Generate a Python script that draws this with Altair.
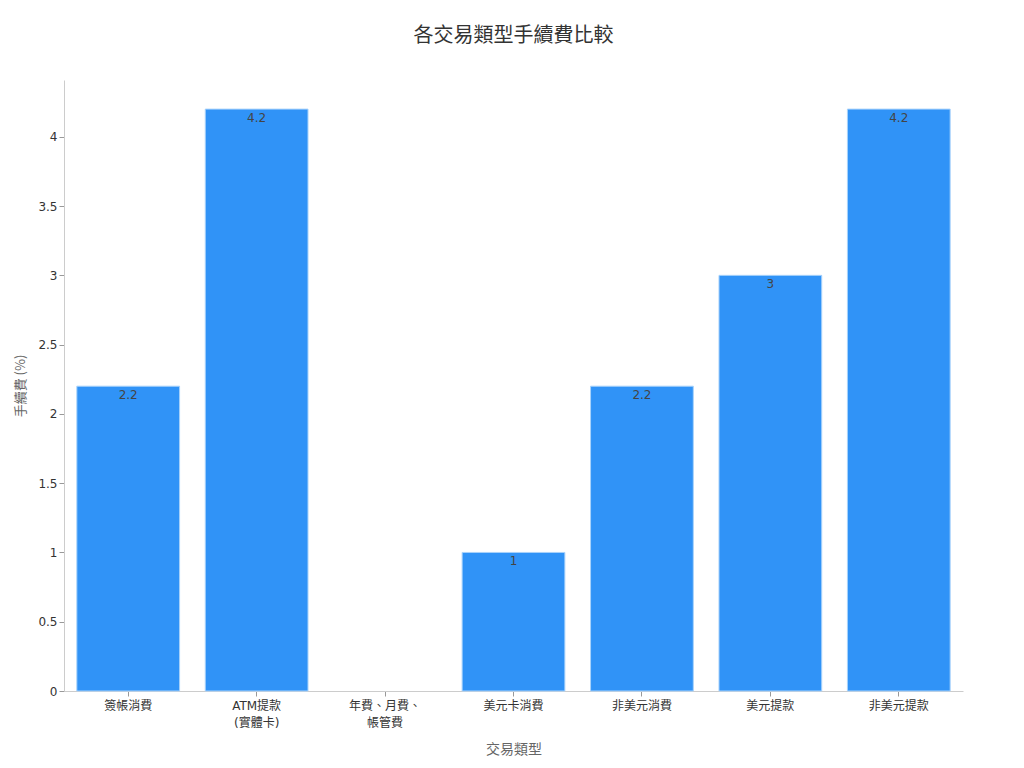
import altair as alt
import pandas as pd

categories = ["簽帳消費", "ATM提款\n(實體卡)", "年費、月費、\n帳管費", "美元卡消費", "非美元消費", "美元提款", "非美元提款"]
fees = [2.2, 4.2, 0, 1, 2.2, 3, 4.2]

df = pd.DataFrame({"cat": categories, "fee": fees})
FONT = "DejaVu Sans, Noto Sans CJK TC"

x = alt.X("cat:N", sort=categories, title="交易類型",
          scale=alt.Scale(domain=categories, paddingInner=0.2, paddingOuter=0.1),
          axis=alt.Axis(labelAngle=0, labelExpr="split(datum.label, '\\n')",
                        labelColor="#333", labelFontSize=12, labelFont=FONT,
                        titleColor="#666", titleFontSize=14, titleFont="Noto Sans CJK TC", titleFontWeight="normal",
                        titlePadding=14, domainColor="#ccc", tickColor="#999", tickSize=5,
                        labelPadding=4, labelLineHeight=17))
y = alt.Y("fee:Q", title="手續費 (%)", scale=alt.Scale(domain=[0, 4.41], nice=False),
          axis=alt.Axis(values=[0, 0.5, 1, 1.5, 2, 2.5, 3, 3.5, 4], grid=False, format="~g",
                        labelColor="#333", labelFontSize=12, labelFont=FONT,
                        titleColor="#666", titleFontSize=13, titleFont="Noto Sans CJK TC", titleFontWeight="normal",
                        titlePadding=10, domainColor="#ccc", tickColor="#999", tickSize=5))

base = alt.Chart(df).transform_filter("datum.fee > 0")
bars = base.mark_bar(color="#3093f7", stroke="#a8d2fb", strokeWidth=1).encode(x=x, y=y)
text = base.mark_text(
    baseline="top", dy=4, fontSize=12, color="#444", font=FONT
).encode(x=alt.X("cat:N", sort=categories), y="fee:Q", text="fee:Q")

chart = alt.layer(bars, text).properties(
    width=899, height=611,
    title=alt.TitleParams("各交易類型手續費比較", fontSize=20, font="Noto Sans CJK TC", color="#333",
                          fontWeight="normal", anchor="middle", offset=34),
    autosize=alt.AutoSizeParams(type="none"),
    padding={"left": 56, "top": 72, "right": 45, "bottom": 75},
).configure_view(stroke=None)

chart.save("out.html", embed_options={"renderer": "svg", "actions": False})
